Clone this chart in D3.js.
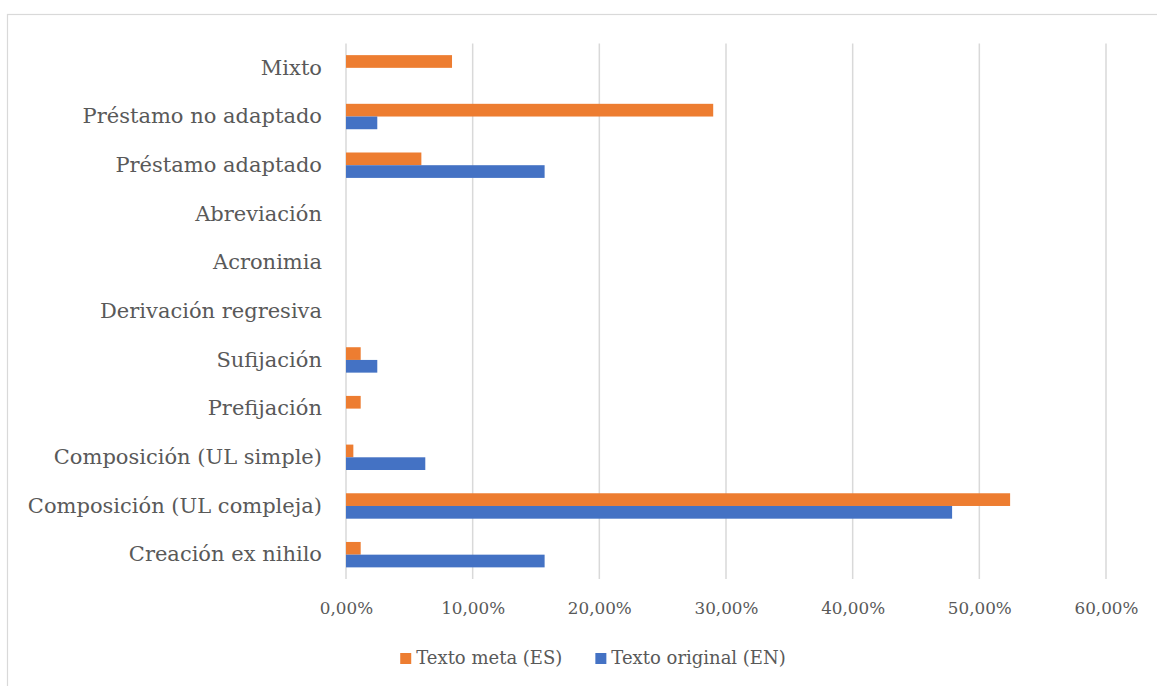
<!DOCTYPE html>
<html>
<head>
<meta charset="utf-8">
<script src="https://cdn.jsdelivr.net/npm/d3@7"></script>
<style>
  body { margin: 0; background: #fff; }
  text { fill: #595959; }
</style>
</head>
<body>
<div id="grafica"></div>
<script>
// Datos
const categorias = [
  "Mixto",
  "Préstamo no adaptado",
  "Préstamo adaptado",
  "Abreviación",
  "Acronimia",
  "Derivación regresiva",
  "Sufijación",
  "Prefijación",
  "Composición (UL simple)",
  "Composición (UL compleja)",
  "Creación ex nihilo"
]
const textoMeta = [0.0837, 0.2899, 0.0595, 0, 0, 0, 0.0116, 0.0116, 0.0058, 0.5243, 0.0116]
const textoOriginal = [0, 0.0247, 0.1568, 0, 0, 0, 0.0247, 0, 0.0626, 0.4785, 0.1568]
const series = ["Texto meta (ES)", "Texto original (EN)"]
const ticksX = [0, 0.1, 0.2, 0.3, 0.4, 0.5, 0.6]

const anchoTotal = 1157
const altoTotal = 686

const svg = d3.select("#grafica").append("svg")
  .attr("width", anchoTotal)
  .attr("height", altoTotal)

// Borde del grafico
svg.append("rect")
  .attr("x", 7.5).attr("y", 14.5)
  .attr("width", 1300).attr("height", 800)
  .attr("fill", "none")
  .attr("stroke", "#d9d9d9")
  .attr("stroke-width", 1.2)

const plot = { left: 346, right: 1106, top: 43.5, bottom: 579 }

// Escaladores
const x = d3.scaleLinear().domain([0, 0.6]).range([plot.left, plot.right])
const y = d3.scaleBand().domain(categorias)
  .range([plot.top, plot.bottom])
  .paddingInner(0.478).paddingOuter(0.239)
const ySub = d3.scaleBand().domain(series).range([0, y.bandwidth()])
const color = d3.scaleOrdinal().domain(series).range(["#ED7D31", "#4472C4"])

const es = d3.formatLocale({ decimal: ",", thousands: ".", grouping: [3], currency: ["", "€"] })
const formato = es.format(".2%")

// Rejilla
svg.append("g")
  .selectAll("line")
  .data(ticksX)
  .join("line")
    .attr("x1", d => x(d)).attr("x2", d => x(d))
    .attr("y1", plot.top).attr("y2", plot.bottom)
    .attr("stroke", "#d9d9d9")
    .attr("stroke-width", 1.5)

// Barras
const filas = categorias.map((c, i) => ({ cat: c, valores: [textoMeta[i], textoOriginal[i]] }))

const grupos = svg.append("g")
  .selectAll("g")
  .data(filas)
  .join("g")
    .attr("transform", d => `translate(0,${y(d.cat)})`)

grupos.selectAll("rect")
  .data(d => d.valores.map((v, j) => ({ serie: series[j], valor: v })))
  .join("rect")
    .filter(d => d.valor > 0)
    .attr("x", x(0))
    .attr("y", d => ySub(d.serie))
    .attr("width", d => x(d.valor) - x(0))
    .attr("height", ySub.bandwidth())
    .attr("fill", d => color(d.serie))

// Ejes
const ejeX = svg.append("g")
  .attr("transform", `translate(0,${plot.bottom})`)
  .call(d3.axisBottom(x).tickValues(ticksX).tickFormat(formato).tickSize(0).tickPadding(23))
ejeX.select(".domain").remove()
ejeX.selectAll("text")
  .attr("font-family", "DejaVu Serif")
  .attr("font-size", "16.8px")
  .style("fill", "#595959")

const ejeY = svg.append("g")
  .attr("transform", `translate(${plot.left},0)`)
  .call(d3.axisLeft(y).tickSize(0).tickPadding(24))
ejeY.select(".domain").remove()
ejeY.selectAll("text")
  .attr("font-family", "DejaVu Serif")
  .attr("font-size", "21px")
  .style("fill", "#595959")

// Leyenda
const leyenda = svg.append("g")
let posX = 0
series.forEach((s, i) => {
  const item = leyenda.append("g").attr("transform", `translate(${posX},0)`)
  item.append("rect")
    .attr("x", 0).attr("y", -11)
    .attr("width", 11).attr("height", 11)
    .attr("fill", color(s))
  const t = item.append("text")
    .attr("x", 16).attr("y", 0)
    .attr("font-family", "DejaVu Serif")
    .attr("font-size", "18px")
    .text(s)
  posX += 16 + t.node().getComputedTextLength() + 33
})
const anchoLeyenda = posX - 33
leyenda.attr("transform", `translate(${593 - anchoLeyenda / 2},664)`)
</script>
</body>
</html>
